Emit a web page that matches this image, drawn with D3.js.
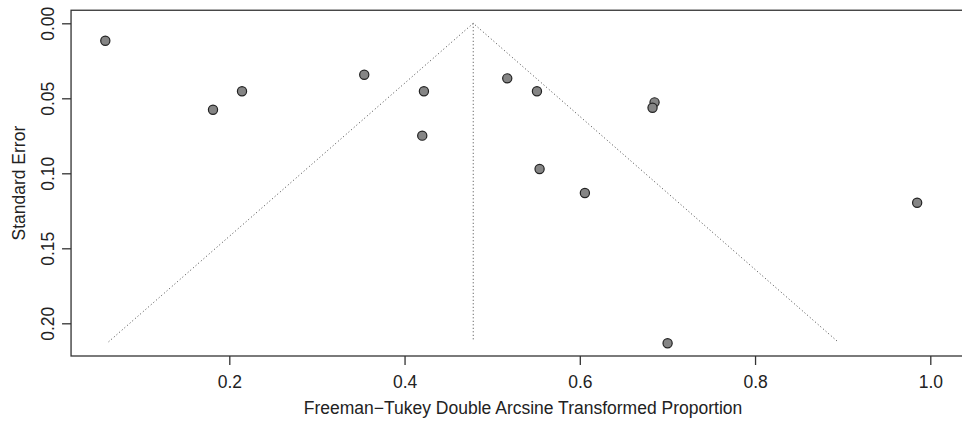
<!DOCTYPE html>
<html>
<head>
<meta charset="utf-8">
<script src="https://cdn.jsdelivr.net/npm/d3@7"></script>
<style>
  html, body { margin: 0; padding: 0; background: #fff; }
  svg { display: block; font-family: "Liberation Sans", Arial, Helvetica, sans-serif; }
</style>
</head>
<body>
<div id="chart"></div>
<script>
// study estimates (FT double arcsine) and their standard errors
const estimates = [0.0585, 0.1814, 0.2145, 0.3540, 0.4221, 0.4202, 0.5172, 0.5511, 0.5541, 0.6058, 0.6853, 0.6830, 0.9850, 0.7002];
const stdErrors = [0.0116, 0.0576, 0.0453, 0.0343, 0.0453, 0.0749, 0.0367, 0.0453, 0.0971, 0.1131, 0.0527, 0.0563, 0.1196, 0.2133];
const pooled = 0.4784;
const seMax = 0.2123;
const xTicks = [0.2, 0.4, 0.6, 0.8, 1.0];
const yTicks = [0.00, 0.05, 0.10, 0.15, 0.20];

const width = 962, height = 421;
const fontSize = 17.5;

const svg = d3.select("#chart").append("svg")
  .attr("width", width)
  .attr("height", height);

const x = d3.scaleLinear().domain([0.2, 1.0]).range([229.3, 930.3]);
const y = d3.scaleLinear().domain([0, 0.2]).range([23.3, 323.3]);

// plot region runs past the right edge of the picture
const box = { left: x(0.0194), right: x(1.051), top: y(-0.0087), bottom: y(0.2218) };

// funnel
const funnel = [[pooled - 1.96 * seMax, seMax], [pooled, 0], [pooled + 1.96 * seMax, seMax]];
const line = d3.line().x(d => x(d[0])).y(d => y(d[1]));

svg.append("path")
  .datum(funnel)
  .attr("d", line)
  .attr("fill", "none")
  .attr("stroke", "#444")
  .attr("stroke-width", 1)
  .attr("stroke-dasharray", "1,2.5");

svg.append("path")
  .datum([[pooled, 0], [pooled, seMax]])
  .attr("d", line)
  .attr("fill", "none")
  .attr("stroke", "#444")
  .attr("stroke-width", 1)
  .attr("stroke-dasharray", "1,2.5");

// points
svg.append("g").selectAll("circle")
  .data(estimates.map((v, i) => ({ est: v, se: stdErrors[i] })))
  .join("circle")
  .attr("cx", d => x(d.est))
  .attr("cy", d => y(d.se))
  .attr("r", 4.6)
  .attr("fill", "#858585")
  .attr("stroke", "#222")
  .attr("stroke-width", 1.2);

// box
svg.append("rect")
  .attr("x", box.left)
  .attr("y", box.top)
  .attr("width", box.right - box.left)
  .attr("height", box.bottom - box.top)
  .attr("fill", "none")
  .attr("stroke", "#333")
  .attr("stroke-width", 1.3);

// x axis
const xAxis = svg.append("g")
  .attr("transform", `translate(0,${box.bottom})`)
  .call(d3.axisBottom(x).tickValues(xTicks).tickFormat(d3.format(".1f")).tickSize(9).tickSizeOuter(0));
xAxis.select(".domain").remove();
xAxis.selectAll("line").attr("stroke", "#333").attr("stroke-width", 1.3);
xAxis.selectAll("text")
  .attr("font-size", fontSize).attr("fill", "#222")
  .attr("font-family", "Liberation Sans, Arial, sans-serif")
  .attr("y", 381.7 - box.bottom).attr("dy", null)
  .attr("dominant-baseline", "central");

// y axis (rotated labels)
const yAxis = svg.append("g")
  .attr("transform", `translate(${box.left},0)`)
  .call(d3.axisLeft(y).tickValues(yTicks).tickFormat(d3.format(".2f")).tickSize(9).tickSizeOuter(0));
yAxis.select(".domain").remove();
yAxis.selectAll("line").attr("stroke", "#333").attr("stroke-width", 1.3);
yAxis.selectAll("text")
  .attr("font-size", fontSize).attr("fill", "#222")
  .attr("font-family", "Liberation Sans, Arial, sans-serif")
  .attr("x", null).attr("dy", null)
  .attr("text-anchor", "middle")
  .attr("transform", `translate(${48.3 - box.left},0) rotate(-90)`)
  .attr("dominant-baseline", "central");

// titles
svg.append("text")
  .attr("x", (box.left + box.right) / 2)
  .attr("y", 408)
  .attr("text-anchor", "middle")
  .attr("dominant-baseline", "central")
  .attr("font-size", fontSize)
  .attr("fill", "#222")
  .text("Freeman\u2212Tukey Double Arcsine Transformed Proportion");

svg.append("text")
  .attr("transform", `translate(18.5,${(box.top + box.bottom) / 2}) rotate(-90)`)
  .attr("text-anchor", "middle")
  .attr("dominant-baseline", "central")
  .attr("font-size", fontSize)
  .attr("fill", "#222")
  .text("Standard Error");
</script>
</body>
</html>
